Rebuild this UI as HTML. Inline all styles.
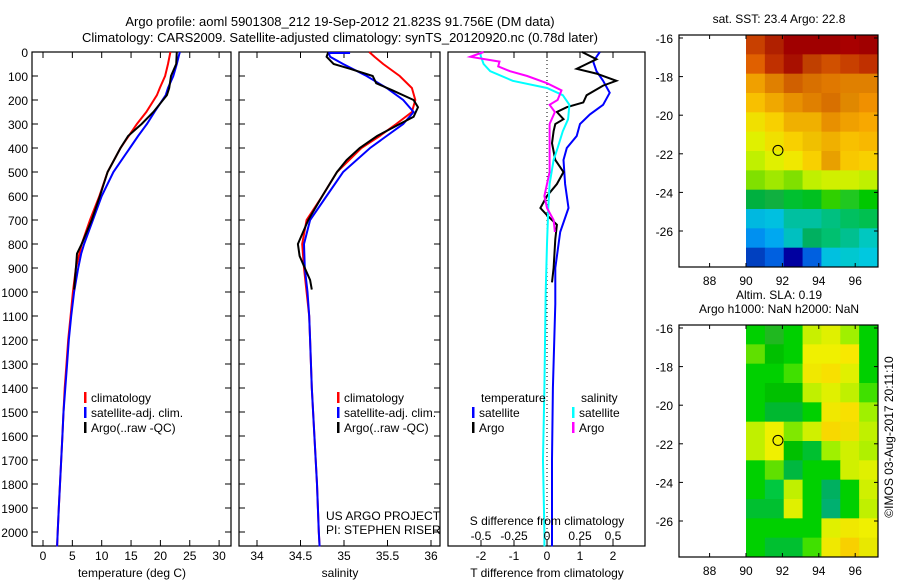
<!DOCTYPE html>
<html><head><meta charset="utf-8"><style>
body{margin:0;background:#fff}
svg{display:block;font-family:"Liberation Sans",sans-serif;font-size:12px}
</style></head><body>
<svg id="c" width="900" height="580" viewBox="0 0 900 580">
<g id="titles">
<text x="340" y="26" text-anchor="middle" font-size="13">Argo profile: aoml 5901308_212 19-Sep-2012 21.823S 91.756E (DM data)</text>
<text x="340" y="42" text-anchor="middle" font-size="13">Climatology: CARS2009. Satellite-adjusted climatology: synTS_20120920.nc (0.78d later)</text>
</g>
</svg>
<script>
// ---- data ----
const tDepth=[0,50,100,150,180,250,300,350,400,500,600,700,800,840,900,1000,1100,1200,1300,1400,1500,1600,1700,1800,1900,2000,2060];
const tClim=[21.7,21.3,20.8,19.9,19.4,17.6,16,14.6,13.2,11,9.6,8,6.6,6.2,5.6,5.1,4.7,4.3,4.0,3.7,3.5,3.3,3.1,2.9,2.7,2.5,2.4];
const tSat=[23.3,22.8,22.2,21.3,20.9,19,17.7,16.2,14.8,12,10,8.5,7,6.5,6,5.3,4.8,4.4,4.1,3.8,3.5,3.3,3.1,2.9,2.7,2.5,2.4];
const argoDepth=[0,50,100,150,180,250,300,350,400,500,600,700,800,840,900,990];
const tArgo=[22.8,22.7,21.8,21.5,21.1,18.8,16.8,14.5,13.2,11,9.7,8.3,6.6,5.8,5.6,5.3];
const sDepth=[0,20,50,100,150,200,250,300,350,400,500,600,700,800,900,1000,1100,1200,1400,1600,1800,2000,2060];
const sClim=[35.29,35.35,35.45,35.64,35.78,35.82,35.78,35.6,35.41,35.2,34.92,34.75,34.57,34.52,34.54,34.57,34.6,34.61,34.63,34.66,34.69,34.71,34.72];
const sSat=[34.82,34.84,34.99,35.26,35.49,35.68,35.8,35.68,35.49,35.3,34.99,34.8,34.61,34.54,34.55,34.58,34.6,34.61,34.63,34.66,34.69,34.71,34.72];
const sArgoDepth=[0,20,50,70,100,130,160,200,230,270,300,350,400,450,500,600,700,800,850,900,950,990];
const sArgo=[34.82,34.8,34.88,35.07,35.33,35.37,35.56,35.8,35.85,35.8,35.64,35.38,35.18,35.03,34.92,34.75,34.59,34.47,34.49,34.55,34.61,34.63];
const dtArgoDepth=[0,30,50,70,90,120,140,180,210,230,250,280,300,330,380,450,500,550,600,650,680,720,780,900,960];
const dtArgo=[1.06,1.5,1.2,0.9,1.5,2.1,1.7,1.2,1.1,0.6,0.3,0.5,0.25,0.2,0.15,0.25,0.5,0.3,0,-0.2,0,0.3,0.25,0.2,0.15];
const dtSatDepth=[0,40,80,120,170,220,260,300,350,400,450,550,650,750,900,1050,1400,1700,2000,2060];
const dtSat=[1.6,1.4,1.5,1.7,1.9,1.7,1.3,1.0,0.9,0.6,0.5,0.55,0.65,0.4,0.25,0.25,0.18,0.15,0.15,0.15];
const dsSatDepth=[0,20,50,80,120,150,180,220,280,330,400,450,550,650,800,1000,1400,1700,2000,2060];
const dsSat=[-0.51,-0.5,-0.48,-0.43,-0.26,0,0.12,0.17,0.16,0.12,0.08,0.05,0.02,0.01,0,-0.01,-0.02,-0.03,-0.02,-0.02];
const dsArgoDepth=[0,20,40,60,80,100,130,160,200,220,250,300,400,500,600,650,700,750];
const dsArgo=[-0.48,-0.58,-0.36,-0.37,-0.28,-0.15,0,0.11,0.08,0.02,0.06,0.02,0.02,0.02,-0.02,0,0.05,0.06];
const depthTicks=[0,100,200,300,400,500,600,700,800,900,1000,1100,1200,1300,1400,1500,1600,1700,1800,1900,2000];
const tTicks=[0,5,10,15,20,25,30];
const sTicks=[34,34.5,35,35.5,36];
const dtTicks=[-2,-1,0,1,2];
const dsTicks=[-0.5,-0.25,0,0.25,0.5];
const lonTicks=[88,90,92,94,96];
const latTicks=[-16,-18,-20,-22,-24,-26];
const sstGrid=[
["#c84000","#b02000","#a00000","#a00000","#a00000","#a80000","#a00000"],
["#e06000","#c03000","#a81000","#c04000","#d05000","#c84000","#c03000"],
["#f0a000","#e08000","#d06000","#d87000","#e07800","#e08000","#e08000"],
["#f8c000","#f0a800","#e89000","#e08000","#d87000","#e08800","#f09000"],
["#f0e000","#f8d000","#f0b000","#f0b000","#e89000","#f0a000","#f8a800"],
["#e0f000","#f0e000","#f8d000","#f0c000","#f0b000","#f8c000","#f8b800"],
["#c0f000","#e0f000","#f0e800","#f8d000","#e8a000","#f8c800","#f8d000"],
["#80e000","#a0e800","#80e000","#c0f000","#d0f000","#d0f000","#c0f000"],
["#00b040","#10b040","#00c030","#00c020","#30d000","#20c820","#00c800"],
["#00b8e0","#00c0e0","#00c0a0","#00c0a0","#00c080","#00c060","#00c050"],
["#0090f0","#00a8f0","#00c0c0","#00b060","#00c070","#00c090","#00c8c0"],
["#0040c0","#0060e0","#0000a0","#0060e0","#00c0e0","#00c8d0","#00c8e0"]];
const slaGrid=[
["#00d000","#20b820","#00d000","#c8f000","#e0f000","#a0f000","#00d000"],
["#60e000","#00c000","#00d000","#f0f000","#f0f000","#f8e800","#00d000"],
["#00d000","#00d000","#40e000","#f0e800","#f8e000","#e0f000","#00d000"],
["#00d000","#00c000","#00c000","#c0f000","#e0f000","#c0f000","#40e000"],
["#00d000","#00b830","#00b830","#00d000","#f0e800","#f8e000","#a0f000"],
["#c0f000","#f0f000","#80e800","#d0f000","#f8d800","#f0e000","#c0f000"],
["#c0f000","#f0f000","#00c000","#00c030","#a0f000","#d0f000","#b0f000"],
["#00d000","#60e000","#00b840","#00d000","#00d000","#d0f000","#e0f000"],
["#00d000","#00c840","#c0f000","#00d000","#00b060","#00d000","#d0f000"],
["#00c030","#00c030","#e0f000","#00d000","#00b070","#00d000","#c0f000"],
["#00d000","#00d000","#00d000","#00d000","#e0f000","#f0e800","#f0f000"],
["#00d000","#00c030","#00c030","#40e000","#f0e800","#f8d000","#e8e800"]];
const argoLon=91.756, argoLat=-21.823;

// ---- drawing ----
const svg=document.getElementById('c');
const NS='http://www.w3.org/2000/svg';
function mk(tag,at,parent){const e=document.createElementNS(NS,tag);for(const k in at)e.setAttribute(k,at[k]);(parent||svg).appendChild(e);return e;}
function txt(x,y,s,anchor,parent){const t=mk('text',{x:x,y:y,'text-anchor':anchor||'start'},parent);t.textContent=s;return t;}
const y=d=>52+0.24*d;
const TOP=52,BOT=546;
const xT=v=>43+5.87*v, xS=v=>257+87*(v-34), xDT=v=>547+33*v, xDS=v=>547+132*v;

function frame(x0,x1,name){
  const r=mk('rect',{x:x0,y:TOP,width:x1-x0,height:BOT-TOP,fill:'none',stroke:'#000','stroke-width':1.2});
  
  
}
function vticks(x0,x1){depthTicks.forEach(d=>{mk('line',{x1:x0,x2:x0+6,y1:y(d),y2:y(d),stroke:'#000'});mk('line',{x1:x1,x2:x1-6,y1:y(d),y2:y(d),stroke:'#000'});});}
function hticks(vals,fx,lab,ly){vals.forEach(v=>{const X=fx(v);mk('line',{x1:X,x2:X,y1:BOT,y2:BOT-6,stroke:'#000'});mk('line',{x1:X,x2:X,y1:TOP,y2:TOP+6,stroke:'#000'});if(lab){const t=txt(X,ly,String(v),'middle');}});}
function line(depths,vals,fx,col,name,w){
  const p=depths.map((d,i)=>fx(vals[i]).toFixed(1)+','+y(d).toFixed(1)).join(' ');
  const l=mk('polyline',{points:p,fill:'none',stroke:col,'stroke-width':w||2});
  
  
}
function legend(x,yy,col,label){
  mk('rect',{x:x,y:yy-10,width:2.5,height:11,fill:col});
  const t=txt(x+7,yy,label);
  
  
}

// y-axis labels
depthTicks.forEach(d=>{const t=txt(28,y(d)+5,String(d),'end');});

// panel 1
frame(32,231,'temperature-panel');vticks(32,231);hticks(tTicks,xT,true,560);
line(tDepth,tClim,xT,'#f00','temp-climatology-line');
line(tDepth,tSat,xT,'#00f','temp-satellite-line');
line(argoDepth,tArgo,xT,'#000','temp-argo-line');
let t=txt(132,577,'temperature (deg C)','middle');
legend(84,402,'#f00','climatology');legend(84,417,'#00f','satellite-adj. clim.');legend(84,432,'#000','Argo(..raw -QC)');

// panel 2
frame(239,440,'salinity-panel');vticks(239,440);hticks(sTicks,xS,true,560);
line(sDepth,sClim,xS,'#f00','sal-climatology-line');
line(sDepth,sSat,xS,'#00f','sal-satellite-line');
line(sArgoDepth,sArgo,xS,'#000','sal-argo-line');
mk('line',{x1:xS(34.82),x2:xS(35.07),y1:53,y2:53,stroke:'#00f','stroke-width':2});
t=txt(340,577,'salinity','middle');
legend(337,402,'#f00','climatology');legend(337,417,'#00f','satellite-adj. clim.');legend(337,432,'#000','Argo(..raw -QC)');
t=txt(326,520,'US ARGO PROJECT');
t=txt(326,534,'PI: STEPHEN RISER');

// panel 3
frame(448,645,'difference-panel');
hticks(dtTicks,xDT,true,560);
mk('line',{x1:547,x2:547,y1:TOP,y2:BOT,stroke:'#000','stroke-dasharray':'1 3'});
line(dtSatDepth,dtSat,xDT,'#00f','dt-satellite-line');
line(dtArgoDepth,dtArgo,xDT,'#000','dt-argo-line');
line(dsSatDepth,dsSat,xDS,'#0ff','ds-satellite-line');
line(dsArgoDepth,dsArgo,xDS,'#f0f','ds-argo-line');
t=txt(481,402,'temperature');
t=txt(581,402,'salinity');
legend(472,417,'#00f','satellite');legend(472,432,'#000','Argo');
legend(572,417,'#0ff','satellite');legend(572,432,'#f0f','Argo');
t=txt(547,525,'S difference from climatology','middle');
dsTicks.forEach(v=>{const q=txt(xDS(v),540,String(v),'middle');});
t=txt(547,577,'T difference from climatology','middle');

// maps
function map(top,grid,name,title1,title2){
  const x0=679,x1=878,bot=top+232,lonX=v=>746+18.2*(v-90),latY=v=>top+3+19.3*(-16-v);
  const g=mk('g',{});
  
  
  const cw=(x1-746)/grid[0].length,ch=(bot-top)/grid.length;
  grid.forEach((row,i)=>row.forEach((c,j)=>mk('rect',{x:746+j*cw,y:top+i*ch,width:cw+0.5,height:ch+0.5,fill:c},g)));
  mk('rect',{x:x0,y:top,width:x1-x0,height:bot-top,fill:'none',stroke:'#000','stroke-width':1.2},g);
  lonTicks.forEach(v=>{const X=lonX(v);mk('line',{x1:X,x2:X,y1:bot,y2:bot-4,stroke:'#000'},g);mk('line',{x1:X,x2:X,y1:top,y2:top+4,stroke:'#000'},g);txt(X,bot+18,String(v),'middle',g);});
  latTicks.forEach(v=>{const Y=latY(v);mk('line',{x1:x0,x2:x0+4,y1:Y,y2:Y,stroke:'#000'},g);mk('line',{x1:x1,x2:x1-4,y1:Y,y2:Y,stroke:'#000'},g);txt(673,Y+5,String(v),'end',g);});
  const m=mk('circle',{cx:lonX(argoLon),cy:latY(argoLat),r:5,fill:'none',stroke:'#000'},g);
  
  
  if(title2){txt(779,top-26,title1,'middle',g);txt(779,top-12,title2,'middle',g);}else txt(779,top-12,title1,'middle',g);
}
map(35,sstGrid,'sst-map','sat. SST: 23.4  Argo: 22.8');
map(325,slaGrid,'sla-map','Altim. SLA: 0.19','Argo h1000: NaN h2000: NaN');
t=txt(0,0,'©IMOS 03-Aug-2017 20:11:10','middle');
t.setAttribute('transform','translate(893,437) rotate(-90)');


</script>
</body></html>
